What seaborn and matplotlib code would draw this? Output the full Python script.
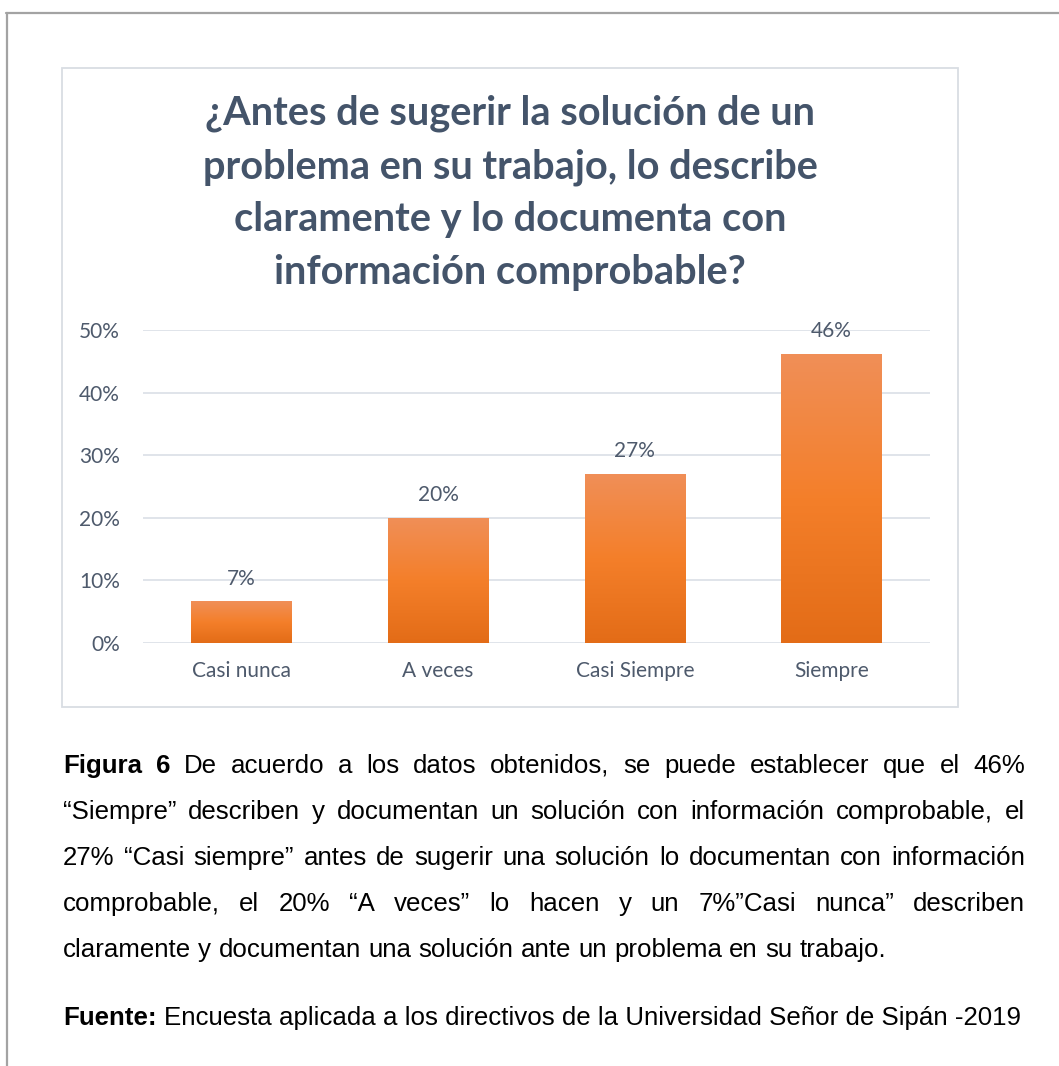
import numpy as np
import pandas as pd
import matplotlib
matplotlib.use("Agg")
import matplotlib.pyplot as plt
from matplotlib.lines import Line2D
from matplotlib.patches import Rectangle
from matplotlib.colors import LinearSegmentedColormap
from matplotlib.ticker import FuncFormatter
from matplotlib.font_manager import FontProperties
import seaborn as sns

# ---- data ----
categories = ["Casi nunca", "A veces", "Casi Siempre", "Siempre"]
values = [0.067, 0.20, 0.27, 0.462]
yticks = [0.0, 0.1, 0.2, 0.3, 0.4, 0.5]
title_lines = [
    "¿Antes de sugerir la solución de un",
    "problema en su trabajo, lo describe",
    "claramente y lo documenta con",
    "información comprobable?",
]
caption_lines = [
    [("Figura 6", True), ("De acuerdo a los datos obtenidos, se puede establecer que el 46%", False)],
    [("“Siempre” describen y documentan un solución con información comprobable, el", False)],
    [("27% “Casi siempre” antes de sugerir una solución lo documentan con información", False)],
    [("comprobable, el 20% “A veces” lo hacen y un 7%”Casi nunca” describen", False)],
    [("claramente y documentan una solución ante un problema en su trabajo.", False)],
]
source_bold = "Fuente:"
source_text = "Encuesta aplicada a los directivos de la Universidad Señor de Sipán -2019"

W, H = 1059, 1066
sns.set_theme(style="white")
plt.rcParams["font.family"] = ["Lato", "DejaVu Sans"]

fig = plt.figure(figsize=(W / 100, H / 100), dpi=100)
fig.patch.set_facecolor("white")

def fx(px):
    return px / W

def fy(py):
    return 1 - py / H

# page border lines
fig.add_artist(Line2D([fx(6), fx(1059)], [fy(13), fy(13)], color="#A3A3A3", lw=1.6))
fig.add_artist(Line2D([fx(7), fx(7)], [fy(13), fy(1066)], color="#A3A3A3", lw=1.6))

# chart frame
fig.add_artist(Rectangle((fx(62), fy(707)), fx(958) - fx(62), fy(68) - fy(707),
                         transform=fig.transFigure, fill=False, edgecolor="#D9DDE3", lw=1.3))

# axes
ax_left, ax_right, ax_top, ax_bottom = 143, 930, 330, 643
ax = fig.add_axes([fx(ax_left), fy(ax_bottom), fx(ax_right) - fx(ax_left), fy(ax_top) - fy(ax_bottom)])
df = pd.DataFrame({"cat": categories, "val": values})
sns.barplot(data=df, x="cat", y="val", width=0.51, color="#F07F2A", saturation=1, ax=ax)

ax.set_ylim(0, 0.5)
ax.set_xlim(-0.5, len(categories) - 0.5)
ax.set_yticks(yticks)
ax.yaxis.set_major_formatter(FuncFormatter(lambda v, p: f"{v*100:.0f}%"))
ax.grid(axis="y", color="#DDE2E8", lw=1.3)
ax.set_axisbelow(True)
for s in ax.spines.values():
    s.set_visible(False)
ax.set_xlabel("")
ax.set_ylabel("")
txtc = "#4E5A6C"
ax.tick_params(axis="both", length=0, labelsize=15, colors=txtc)
ax.tick_params(axis="y", pad=16.5)
ax.tick_params(axis="x", pad=13)

# gradient fill on bars
cmap = LinearSegmentedColormap.from_list("og", ["#E36C17", "#F47F2A", "#F08F58"])
grad = np.linspace(0, 1, 256).reshape(-1, 1)
for p in list(ax.patches):
    x0, y0 = p.get_x(), p.get_y()
    w, h = p.get_width(), p.get_height()
    im = ax.imshow(grad, cmap=cmap, origin="lower", aspect="auto",
                   extent=[x0, x0 + w, y0, y0 + h], zorder=2)
    im.set_clip_path(p)
    p.set_facecolor("none")
    p.set_edgecolor("none")
ax.set_ylim(0, 0.5)
ax.set_xlim(-0.5, len(categories) - 0.5)

ax.bar_label(ax.containers[0], labels=[f"{v*100:.0f}%" for v in values],
             padding=9, fontsize=15, color=txtc)

# title lines
title_base = [125, 178, 231, 284]
for line, yy in zip(title_lines, title_base):
    fig.text(fx(510), fy(yy), line, ha="center", va="baseline", fontsize=28.6,
             fontweight="bold", color="#44546A")

# caption (justified)
fig.canvas.draw()
renderer = fig.canvas.get_renderer()
cap_font = ["Liberation Sans", "DejaVu Sans"]
fs = 18.6
prop_n = FontProperties(family=cap_font, size=fs)
prop_b = FontProperties(family=cap_font, size=fs, weight="bold")

def width_of(s, prop):
    w, h, d = renderer.get_text_width_height_descent(s, prop, ismath=False)
    return w

cap_left, cap_right = 63, 1025
cap_base = [773, 819, 865, 911, 957]
for i, (segs, yy) in enumerate(zip(caption_lines, cap_base)):
    words = []
    for seg, bold in segs:
        for wd in seg.split(" "):
            words.append((wd, bold))
    widths = [width_of(wd, prop_b if b else prop_n) for wd, b in words]
    last = i == len(caption_lines) - 1
    if last:
        gap = width_of("a a", prop_n) - 2 * width_of("a", prop_n)
    else:
        gap = (cap_right - cap_left - sum(widths)) / (len(words) - 1)
    x = cap_left
    for (wd, b), wdt in zip(words, widths):
        fig.text(fx(x), fy(yy), wd, ha="left", va="baseline", color="black",
                 fontproperties=prop_b if b else prop_n)
        x += wdt + gap

xb = 63
fig.text(fx(xb), fy(1025), source_bold, ha="left", va="baseline", color="black", fontproperties=prop_b)
xb += width_of(source_bold, prop_b) + width_of("a a", prop_n) - 2 * width_of("a", prop_n)
fig.text(fx(xb), fy(1025), source_text, ha="left", va="baseline", color="black", fontproperties=prop_n)

fig.savefig("out.png", dpi=100, facecolor="white")
